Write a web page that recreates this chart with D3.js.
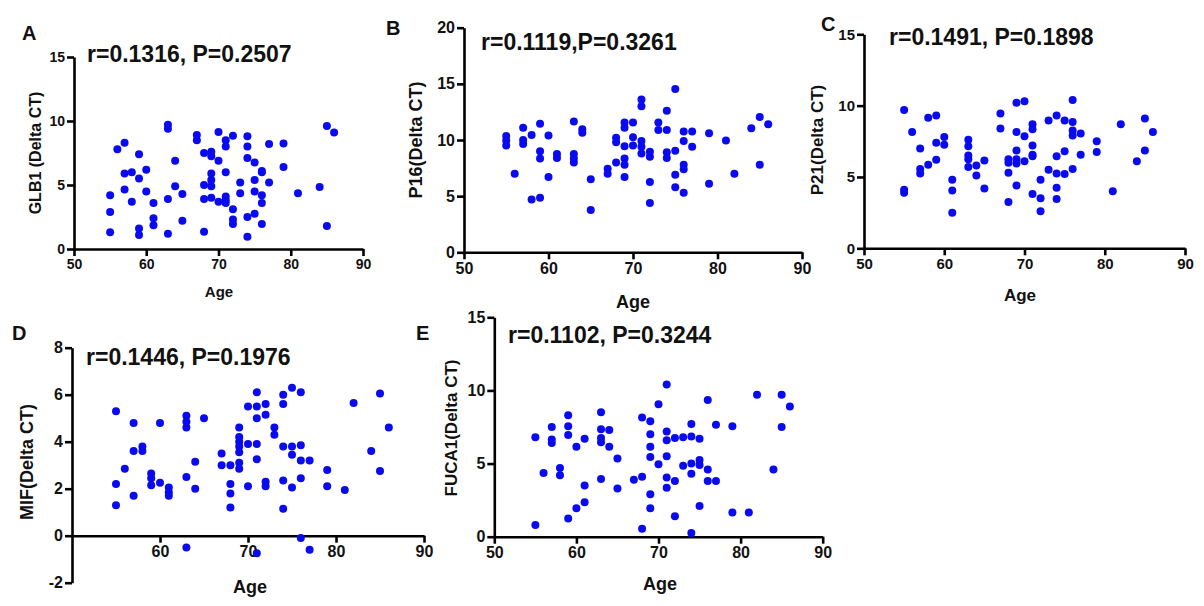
<!DOCTYPE html>
<html><head><meta charset="utf-8">
<script src="https://cdn.jsdelivr.net/npm/d3@7"></script>
<style>
html,body{margin:0;padding:0;background:#fff;}
svg{display:block;}
text{font-family:Arial,"Liberation Sans",sans-serif;font-weight:bold;fill:#111;}
</style></head>
<body>
<svg id="chart" width="1204" height="606"></svg>
<script>
// ---- Data ----
const agesA = [55,55,55,56,57,57,57,58,58,59,59,59,59,60,60,61,61,61,63,63,63,63,64,64,65,65,67,67,68,68,68,68,69,69,69,69,69,69,70,70,70,71,71,71,71,71,71,72,72,72,72,73,73,74,74,74,74,74,75,75,75,75,76,76,76,76,76,77,77,79,79,81,84,85,86,85];
const glb1 = [1.3,2.9,4.2,7.8,8.3,5.9,4.65,6.0,3.7,7.4,5.5,1.6,1.1,6.2,4.5,3.6,2.4,1.85,9.7,9.4,3.9,1.2,6.9,4.9,4.3,2.2,8.9,8.5,7.5,5.0,3.9,1.35,7.6,7.25,5.9,5.4,4.9,4.0,9.15,6.9,3.7,8.5,8.0,6.0,4.1,3.8,3.6,8.85,3.1,2.3,1.95,5.2,4.35,8.8,8.0,7.1,2.5,0.95,6.75,5.4,4.5,2.75,6.1,6.0,4.2,3.6,1.95,8.2,5.2,8.25,6.4,4.35,4.85,9.6,9.1,1.8];

const agesB = [55,55,55,56,57,57,57,58,58,59,59,59,59,60,60,61,61,63,63,63,63,64,64,65,65,67,67,68,68,68,69,69,69,69,69,69,70,70,70,71,71,71,71,71,72,72,72,72,73,73,74,74,74,74,75,75,75,75,76,76,76,76,76,77,77,79,79,81,82,84,85,85,86];
const p16 = [10.35,9.95,9.5,7.0,11.1,10.0,9.65,10.45,4.7,11.45,9.0,8.35,4.85,10.4,6.7,8.75,8.4,11.65,8.75,8.35,8.0,10.95,10.65,6.5,3.77,7.45,7.0,10.2,9.8,8.0,11.55,11.1,9.45,8.35,7.8,6.7,11.55,10.25,9.5,13.6,13.0,9.9,9.4,8.8,8.95,8.5,6.25,4.4,11.55,10.9,12.6,10.9,8.9,8.4,14.55,9.05,6.9,5.8,10.75,9.9,7.8,7.4,5.3,10.75,9.4,10.6,6.1,9.95,7.0,11.05,12.05,7.8,11.4];

const agesC = [55,55,55,56,57,57,57,58,58,59,59,59,60,60,61,61,61,63,63,63,63,63,64,64,65,65,67,67,68,68,68,68,69,69,69,69,69,69,70,70,70,71,71,71,71,71,71,72,72,72,73,73,74,74,74,74,74,75,75,75,76,76,76,76,76,77,77,79,79,81,82,84,85,85,86];
const p21 = [9.7,4.1,3.9,8.15,7.0,5.55,5.25,9.15,5.85,9.3,7.4,6.2,7.8,7.25,4.8,4.05,2.5,7.6,7.15,6.5,6.25,5.7,5.8,5.1,6.15,4.2,9.45,8.4,6.25,6.0,5.3,3.25,10.2,8.15,6.85,6.25,5.95,4.4,10.3,7.85,6.1,8.7,8.35,7.2,6.55,6.45,3.8,4.8,3.5,2.6,8.95,5.5,9.3,6.45,5.25,4.25,3.45,8.95,6.8,5.2,10.4,8.85,8.25,7.9,5.55,8.05,6.55,7.5,6.75,4.0,8.7,6.1,9.1,6.85,8.15];

const agesD = [55,55,55,56,57,57,57,58,58,59,59,59,60,60,61,61,61,63,63,63,63,63,64,64,65,67,67,68,68,68,68,69,69,69,69,69,69,69,70,70,70,71,71,71,71,71,71,72,72,72,72,73,73,74,74,74,74,74,75,75,75,75,76,76,76,76,76,77,77,79,79,81,82,84,85,85,86];
const mif = [5.3,2.2,1.3,2.85,4.8,3.6,1.7,3.8,3.6,2.65,2.45,2.15,4.8,2.25,2.05,1.85,1.7,5.1,4.85,4.6,2.5,-0.5,3.15,2.0,5.0,3.5,3.0,3.0,2.2,1.8,1.2,4.6,4.2,4.0,3.8,3.55,3.1,2.85,5.5,3.9,2.1,6.1,5.5,5.0,3.9,3.25,-0.75,5.6,5.15,2.3,2.1,4.6,4.3,6.0,5.6,3.8,2.35,1.15,6.3,3.8,3.45,2.05,6.1,3.85,3.2,2.45,-0.1,3.2,-0.6,2.8,2.1,1.95,5.65,3.6,6.05,2.75,4.6];

const agesE = [55,55,56,57,57,57,58,58,59,59,59,59,60,60,61,61,61,63,63,63,63,63,64,64,65,65,67,68,68,68,69,69,69,69,69,69,70,70,71,71,71,71,71,71,72,72,72,73,73,74,74,74,74,74,75,75,75,75,76,76,76,77,77,79,79,81,82,84,85,85,86];
const fuca1 = [6.8,0.8,4.35,7.5,6.65,6.4,4.7,4.2,8.3,7.55,6.95,1.25,6.15,1.95,6.7,3.5,2.35,8.5,7.35,6.75,6.45,3.95,7.3,6.15,5.35,3.3,3.9,8.15,4.1,0.55,7.9,7.0,6.15,5.45,2.9,1.95,9.05,4.95,10.4,7.2,6.6,5.5,4.05,3.35,6.75,3.8,1.4,6.8,4.85,7.7,6.85,5.0,4.3,0.25,6.7,5.25,4.9,2.1,9.35,4.6,3.8,7.65,3.8,7.55,1.65,1.65,9.7,4.6,9.7,7.5,8.9];

const panelLetters = ["A","B","C","D","E"];
const statTexts = ["r=0.1316, P=0.2507","r=0.1119,P=0.3261","r=0.1491, P=0.1898","r=0.1446, P=0.1976","r=0.1102, P=0.3244"];
const yLabels = ["GLB1 (Delta CT)","P16(Delta CT)","P21(Delta CT)","MIF(Delta CT)","FUCA1(Delta CT)"];
const xLabel = "Age";
const xTicksFull = [50,60,70,80,90];
const xTicksD = [60,70,80,90];
const yTicks15 = [0,5,10,15];
const yTicks20 = [0,5,10,15,20];
const yTicksD = [-2,0,2,4,6,8];

// ---- Layout ----
const panels = [
  {ages:agesA, vals:glb1, xr:[74,363], yr:[249,57], yd:[0,15], yt:yTicks15, xt:xTicksFull, xAt:0,
   letter:[22,40], stat:[87,62,23], ylab:[41,153,16], xlab:[219,297,15], tf:14},
  {ages:agesB, vals:p16, xr:[464,802], yr:[252.3,27.7], yd:[0,20], yt:yTicks20, xt:xTicksFull, xAt:0,
   letter:[386,35], stat:[481,50,23], ylab:[422,140,18], xlab:[633,308,18], tf:16},
  {ages:agesC, vals:p21, xr:[864,1185], yr:[248.3,34.3], yd:[0,15], yt:yTicks15, xt:xTicksFull, xAt:0,
   letter:[821,31], stat:[889,45,23], ylab:[823,140,17], xlab:[1020,301,17], tf:15},
  {ages:agesD, vals:mif, xr:[72,424], yr:[582.7,347.7], yd:[-2,8], yt:yTicksD, xt:xTicksD, xAt:0,
   letter:[12,340], stat:[86,365,23], ylab:[33,462,18], xlab:[250,593,18], tf:16},
  {ages:agesE, vals:fuca1, xr:[494.3,822.7], yr:[536.7,317.3], yd:[0,15], yt:yTicks15, xt:xTicksFull, xAt:0,
   letter:[416,340], stat:[508,343,23], ylab:[457,428,17], xlab:[660,590,18], tf:16}
];

const svg = d3.select("#chart");
const fmt = d => String(d);

panels.forEach((p, i) => {
  const x = d3.scaleLinear().domain([50,90]).range(p.xr);
  const y = d3.scaleLinear().domain(p.yd).range(p.yr);
  const g = svg.append("g");

  const xa = g.append("g").attr("transform", `translate(0,${y(p.xAt)})`)
    .call(d3.axisBottom(x).tickValues(p.xt).tickFormat(fmt).tickSize(7).tickSizeOuter(0).tickPadding(3));
  const ya = g.append("g").attr("transform", `translate(${p.xr[0]},0)`)
    .call(d3.axisLeft(y).tickValues(p.yt).tickFormat(fmt).tickSize(7).tickSizeOuter(0).tickPadding(2));
  [xa, ya].forEach(a => {
    a.select(".domain").attr("stroke","#000").attr("stroke-width",2.6);
    a.selectAll(".tick line").attr("stroke","#000").attr("stroke-width",2.6);
    a.selectAll(".tick text").attr("fill","#111").style("font-size", p.tf+"px").style("font-weight","bold")
      .style("font-family",'Arial,"Liberation Sans",sans-serif');
  });

  g.append("g").selectAll("circle").data(p.ages.map((a,k)=>[a,p.vals[k]])).join("circle")
    .attr("cx", d => x(d[0])).attr("cy", d => y(d[1])).attr("r", 4).attr("fill", "#0a0af0");

  svg.append("text").attr("x", p.letter[0]).attr("y", p.letter[1]).style("font-size","20px").text(panelLetters[i]);
  svg.append("text").attr("x", p.stat[0]).attr("y", p.stat[1]).style("font-size", p.stat[2]+"px").text(statTexts[i]);
  svg.append("text").attr("transform", `translate(${p.ylab[0]},${p.ylab[1]}) rotate(-90)`)
    .attr("text-anchor","middle").style("font-size", p.ylab[2]+"px").text(yLabels[i]);
  svg.append("text").attr("x", p.xlab[0]).attr("y", p.xlab[1]).attr("text-anchor","middle")
    .style("font-size", p.xlab[2]+"px").text(xLabel);
});
</script>
</body></html>
